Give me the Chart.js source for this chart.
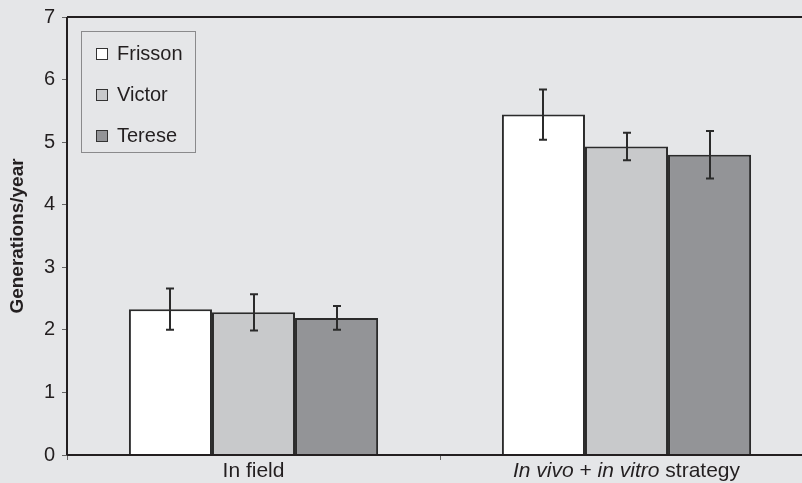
<!DOCTYPE html>
<html>
<head>
<meta charset="utf-8">
<script src="https://cdn.jsdelivr.net/npm/chart.js@4"></script>
<style>
  html, body { margin:0; padding:0; background:#e5e6e8; overflow:hidden; width:802px; height:483px; }
  #wrap { position:relative; width:815px; height:483px; }
  #legend { position:absolute; left:81px; top:31px; width:115px; height:122px; border:1px solid #8a8a8c; box-sizing:border-box;
    font-family:"Liberation Sans", Arial, sans-serif; font-size:20px; color:#231f20; }
  #legend .it { position:absolute; left:14px; height:22px; line-height:22px; white-space:nowrap; }
  #legend .sw { display:inline-block; width:10px; height:10px; border:1px solid #333; vertical-align:middle; margin-right:9px; position:relative; top:-1px; }
</style>
</head>
<body>
<div id="wrap">
  <canvas id="c" width="815" height="483"></canvas>
  <div id="legend"></div>
</div>
<script>
const categories = ["In field", "In vivo + in vitro strategy"];
const seriesNames = ["Frisson", "Victor", "Terese"];
const frisson = [2.33, 5.44];
const victor  = [2.28, 4.93];
const terese  = [2.19, 4.80];
const frissonErr = [0.33, 0.40];
const victorErr  = [0.29, 0.22];
const tereseErr  = [0.19, 0.38];
const yTicks = [0, 1, 2, 3, 4, 5, 6, 7];
const colors = ["#ffffff", "#c8c9cb", "#939497"];

const values = [frisson, victor, terese];
const errs = [frissonErr, victorErr, tereseErr];
const FONT = '"Liberation Sans", Arial, sans-serif';
const TEXT = '#231f20';

// HTML legend
const leg = document.getElementById('legend');
seriesNames.forEach((n, i) => {
  const d = document.createElement('div');
  d.className = 'it';
  d.style.top = (10 + i * 41) + 'px';
  d.innerHTML = '<span class="sw" style="background:' + colors[i] + '"></span>' + n;
  leg.appendChild(d);
});

const errorBars = {
  id: 'errorBars',
  afterDatasetsDraw(chart) {
    const ctx = chart.ctx, y = chart.scales.y;
    ctx.save();
    ctx.strokeStyle = '#2b2b2b';
    ctx.lineWidth = 2;
    chart.data.datasets.forEach((ds, di) => {
      const meta = chart.getDatasetMeta(di);
      meta.data.forEach((bar, i) => {
        const v = ds.data[i], e = errs[di][i];
        const x = Math.round(bar.x);
        const yt = y.getPixelForValue(v + e), yb = y.getPixelForValue(v - e);
        ctx.beginPath();
        ctx.moveTo(x, yt); ctx.lineTo(x, yb);
        ctx.moveTo(x - 4, yt); ctx.lineTo(x + 4, yt);
        ctx.moveTo(x - 4, yb); ctx.lineTo(x + 4, yb);
        ctx.stroke();
      });
    });
    ctx.restore();
  }
};

const frame = {
  id: 'frame',
  afterDraw(chart) {
    const ctx = chart.ctx, a = chart.chartArea;
    ctx.save();
    ctx.strokeStyle = '#231f20';
    ctx.lineWidth = 2;
    ctx.beginPath();
    ctx.moveTo(a.left, a.top); ctx.lineTo(a.right, a.top);
    ctx.moveTo(a.left, a.top); ctx.lineTo(a.left, a.bottom);
    ctx.moveTo(a.left, a.bottom); ctx.lineTo(a.right, a.bottom);
    ctx.stroke();
    // category labels with mixed italic
    const x = chart.scales.x;
    ctx.fillStyle = TEXT;
    ctx.textBaseline = 'alphabetic';
    const ly = a.bottom + 22;
    const segsList = [
      [["In field", false]],
      [["In vivo", true], [" + ", false], ["in vitro", true], [" strategy", false]]
    ];
    segsList.forEach((segs, i) => {
      const cx = x.getPixelForValue(i);
      let total = 0;
      const widths = segs.map(([t, it]) => {
        ctx.font = (it ? 'italic ' : '') + '21px ' + FONT;
        const w = ctx.measureText(t).width; total += w; return w;
      });
      let sx = cx - total / 2;
      segs.forEach(([t, it], k) => {
        ctx.font = (it ? 'italic ' : '') + '21px ' + FONT;
        ctx.textAlign = 'left';
        ctx.fillText(t, sx, ly);
        sx += widths[k];
      });
    });
    ctx.restore();
  }
};

new Chart(document.getElementById('c'), {
  type: 'bar',
  data: {
    labels: categories,
    datasets: seriesNames.map((n, i) => ({
      label: n,
      data: values[i],
      backgroundColor: colors[i],
      borderColor: '#2b2b2b',
      borderWidth: 2,
      borderSkipped: 'bottom',
      barPercentage: 1.0,
      categoryPercentage: 0.668
    }))
  },
  options: {
    responsive: false,
    animation: false,
    layout: { padding: { top: 17, right: 2, left: 0, bottom: 0 } },
    plugins: { legend: { display: false }, tooltip: { enabled: false } },
    scales: {
      x: {
        offset: true,
        grid: { display: true, drawOnChartArea: false, offset: true, tickLength: 5, color: '#666', lineWidth: 1 },
        border: { display: false },
        ticks: { display: false },
        afterFit(s) { s.height = 28; }
      },
      y: {
        min: 0, max: 7,
        afterBuildTicks(s) { s.ticks = yTicks.map(v => ({ value: v })); },
        grid: { display: true, drawOnChartArea: false, tickLength: 5, color: '#666', lineWidth: 1 },
        border: { display: false },
        ticks: { color: TEXT, font: { family: FONT, size: 20, lineHeight: 1.0 }, padding: 7 },
        title: { display: true, text: 'Generations/year', color: TEXT, font: { family: FONT, size: 19, weight: 'bold' }, padding: { top: 6, bottom: 0 } },
        afterFit(s) { s.width = 67; }
      }
    }
  },
  plugins: [errorBars, frame]
});
</script>
</body>
</html>
